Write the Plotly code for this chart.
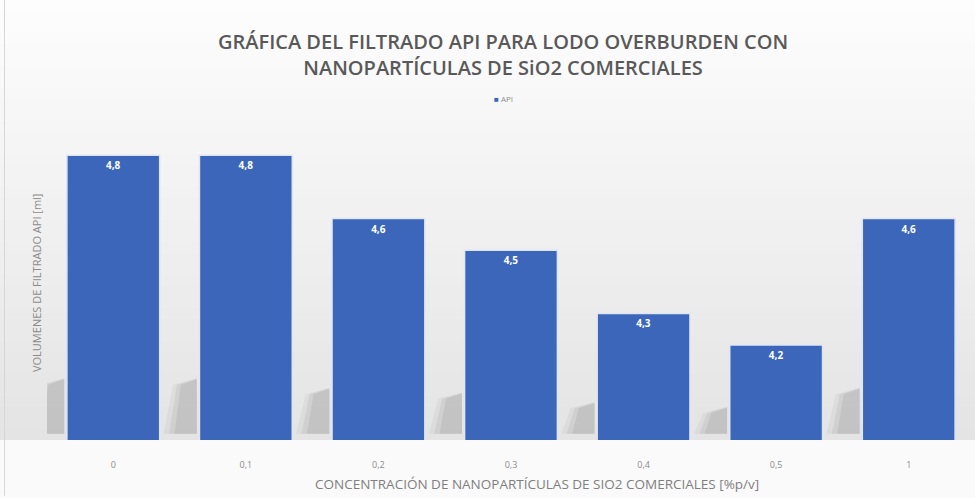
import plotly.graph_objects as go

# Filtrado API (ml) por concentración de nanopartículas de SiO2 (%p/v)
concentraciones = ["0", "0,1", "0,2", "0,3", "0,4", "0,5", "1"]
volumen_api = [4.8, 4.8, 4.6, 4.5, 4.3, 4.2, 4.6]

Y_MIN, Y_MAX = 3.9, 5.0
BAR_W = 0.7
BAR_COLOR = "#3b66ba"

fig = go.Figure()
fig.add_trace(go.Bar(
    x=concentraciones,
    y=volumen_api,
    name="API",
    width=BAR_W,
    showlegend=False,
    marker=dict(color=BAR_COLOR, line=dict(color="#dfe6f3", width=1.5)),
    texttemplate="<b>%{y:.1f}</b>",
    textposition="inside",
    insidetextanchor="end",
    textfont=dict(family="Open Sans", size=10, color="white"),
))

shapes = []

# vertical background gradient (white at the top, light grey at the base line)
n_strips = 40
top_paper = 440 / 348
for k in range(n_strips):
    y0 = top_paper * k / n_strips
    y1 = top_paper * (k + 1) / n_strips
    t = k / (n_strips - 1)
    g = int(round(0xe4 + (0xfd - 0xe4) * t))
    shapes.append(dict(type="rect", xref="paper", yref="paper",
                       x0=-0.06, x1=1.0, y0=y0, y1=y1 + 0.002,
                       fillcolor=f"rgb({g},{g},{g})", line_width=0, layer="below"))
shapes.append(dict(type="rect", xref="paper", yref="paper",
                   x0=-0.06, x1=1.0, y0=-0.2, y1=0.0,
                   fillcolor="#fafafa", line_width=0, layer="below"))

# soft shadow falling behind the left side of each bar
for i, v in enumerate(volumen_api):
    h = v - Y_MIN
    top_s = Y_MIN + 0.06 + 0.15 * h
    left = i - BAR_W / 2
    for spread, alpha in ((1.0, 0.08), (0.85, 0.10), (0.7, 0.12)):
        path = (f"M {left - 0.27 * spread},{Y_MIN + 0.02} "
                f"L {left - 0.02},{Y_MIN + 0.02} "
                f"L {left - 0.02},{top_s - 0.01 * (1 - spread)} "
                f"L {left - 0.2 * spread},{top_s - 0.02} Z")
        shapes.append(dict(type="path", xref="x", yref="y", path=path,
                           fillcolor=f"rgba(110,110,110,{alpha})",
                           line_width=0, layer="below"))

# chart border on the left
shapes.append(dict(type="line", xref="paper", yref="paper",
                   x0=-0.0458, x1=-0.0458, y0=-0.16, y1=1.27,
                   line=dict(color="#d6d6d6", width=1)))

fig.update_layout(
    width=975, height=498,
    margin=dict(l=47, r=0, t=92, b=58),
    paper_bgcolor="white",
    plot_bgcolor="rgba(0,0,0,0)",
    separators=",.",
    font=dict(family="Open Sans", color="#8c8c8c"),
    title=dict(
        text="GRÁFICA DEL FILTRADO API PARA LODO OVERBURDEN CON<br>NANOPARTÍCULAS DE SiO2 COMERCIALES",
        xref="container", x=0.516, xanchor="center",
        yref="container", y=1 - 49 / 498, yanchor="top",
        font=dict(family="Open Sans", size=20, color="#595959", weight=600),
    ),
    showlegend=False,
    xaxis=dict(
        type="category",
        range=[-0.5, len(concentraciones) - 0.5],
        showgrid=False, zeroline=False, showline=False, ticks="",
        tickfont=dict(size=9, color="#8c8c8c"),
        ticklabelstandoff=18,
    ),
    yaxis=dict(
        range=[Y_MIN, Y_MAX],
        showgrid=False, zeroline=False, showline=False,
        showticklabels=False, ticks="",
    ),
    bargap=1 - BAR_W,
    shapes=shapes,
    annotations=[
        # series key
        dict(text=f"<span style='color:{BAR_COLOR}'>■</span> API",
             xref="paper", yref="paper",
             x=(503 - 47) / 928, y=(440 - 99) / 348,
             xanchor="center", yanchor="middle", showarrow=False,
             font=dict(size=8, color="#8c8c8c")),
        dict(text="VOLUMENES DE FILTRADO API [ml]", textangle=-90,
             xref="paper", yref="paper",
             x=(36 - 47) / 928, y=(440 - 283) / 348,
             xanchor="center", yanchor="middle", showarrow=False,
             font=dict(size=11, color="#8c8c8c")),
        dict(text="CONCENTRACIÓN DE NANOPARTÍCULAS DE SIO2 COMERCIALES [%p/v]",
             xref="paper", yref="paper",
             x=(537 - 47) / 928, y=(440 - 484) / 348,
             xanchor="center", yanchor="middle", showarrow=False,
             font=dict(size=13.5, color="#7f7f7f")),
    ],
)

fig.write_html("out.html")
